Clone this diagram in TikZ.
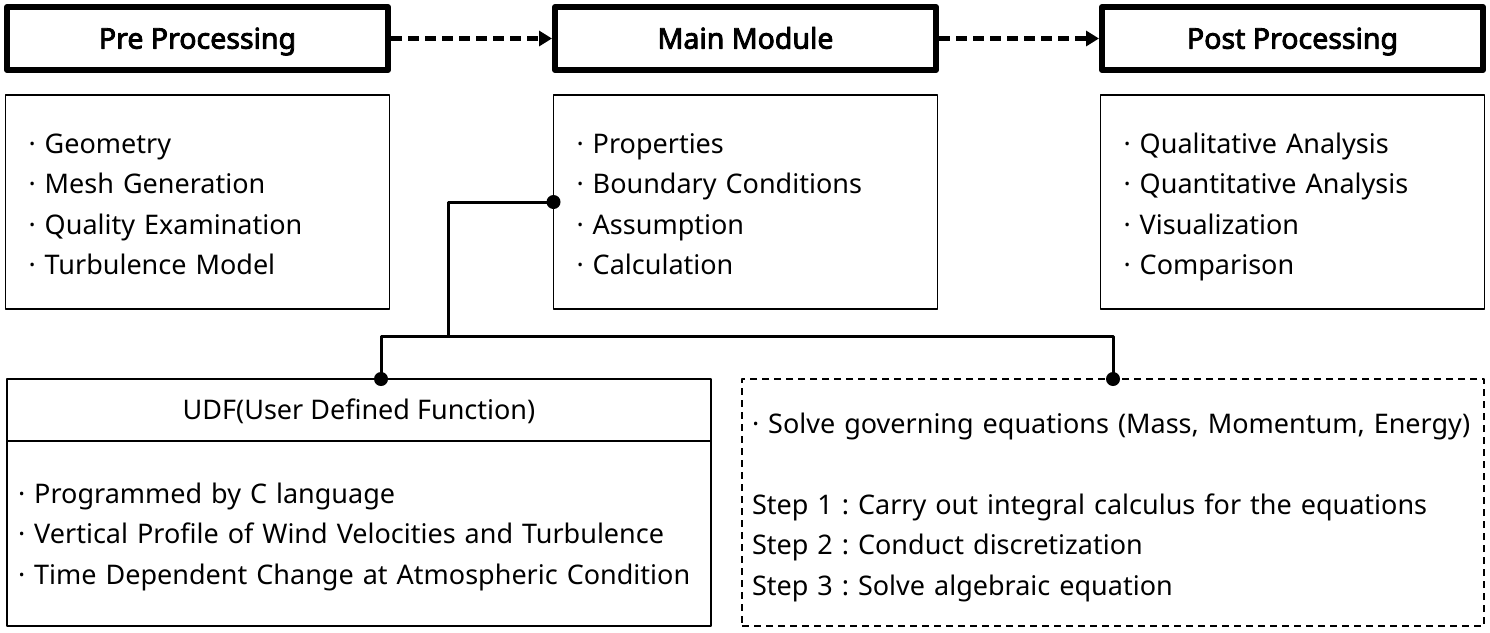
\documentclass[tikz,border=0pt]{standalone}
\usepackage{fontspec}
\setmainfont{Noto Sans}[AutoFakeBold=3]
\usetikzlibrary{arrows.meta,calc,positioning}
\frenchspacing

\begin{document}
\begin{tikzpicture}[x=1pt,y=-1pt,line join=round,outer sep=0pt,
 headbox/.style={draw,line width=6pt,minimum width=381pt,minimum height=63pt,text height=20.3pt,text depth=0pt,font=\fontsize{28.5}{32}\selectfont\bfseries},
 itembox/.style={draw,line width=1.5pt,text width=338pt,inner xsep=23pt,minimum height=214pt,text height=20pt,text depth=117.5pt,align=left,font=\fontsize{27}{40.5}\selectfont},
 flow/.style={line width=5pt,dash pattern=on 11pt off 6pt,-{Triangle[length=13pt,width=15pt]},shorten <=3pt,shorten >=3pt},
 link/.style={line width=3pt}]
\useasboundingbox (0,0) rectangle (1490,632);
\node[headbox] (pre) at (197.5,38.5) {Pre Processing};
\node[headbox] (main) at (745.5,38.5) {Main Module};
\node[headbox] (post) at (1292.5,38.5) {Post Processing};
\draw[flow] (pre) -- (main);
\draw[flow] (main) -- (post);
\node[itembox,below=25pt of pre] (prelist) {· Geometry\\· Mesh Generation\\· Quality Examination\\· Turbulence Model};
\node[itembox,below=25pt of main] (mainlist) {· Properties\\· Boundary Conditions\\· Assumption\\· Calculation};
\node[itembox,below=25pt of post] (postlist) {· Qualitative Analysis\\· Quantitative Analysis\\· Visualization\\· Comparison};
\node[draw,line width=1.5pt,minimum width=704pt,minimum height=62pt,text height=19.3pt,text depth=0pt,font=\fontsize{27}{32}\selectfont] (udf) at (359,410) {UDF(User Defined Function)};
\node[draw,line width=1.5pt,below=0pt of udf,text width=682pt,inner xsep=11pt,minimum height=185pt,text height=20pt,text depth=81pt,align=left,font=\fontsize{27}{40.5}\selectfont] (udfbody) {· Programmed by C language\\· Vertical Profile of Wind Velocities and Turbulence\\· Time Dependent Change at Atmospheric Condition};
\node[draw,line width=1.5pt,dash pattern=on 7pt off 5pt,text width=722pt,inner xsep=10pt,minimum height=247pt,text height=20pt,text depth=158.5pt,align=left,font=\fontsize{27}{40.5}\selectfont] (solve) at (1113,502.5) {· Solve governing equations (Mass, Momentum, Energy)\\[40.5pt]Step 1 : Carry out integral calculus for the equations\\Step 2 : Conduct discretization\\Step 3 : Solve algebraic equation};
\coordinate (hub) at (448,336);
\coordinate (udfin) at ($(udf.north west)+(374,0)$);
\draw[link] (mainlist.west) -| (hub);
\draw[link] (udfin) |- (hub) -| (solve.north);
\foreach \p in {mainlist.west,udfin,solve.north}{\fill (\p) circle (7pt);}
\end{tikzpicture}
\end{document}
